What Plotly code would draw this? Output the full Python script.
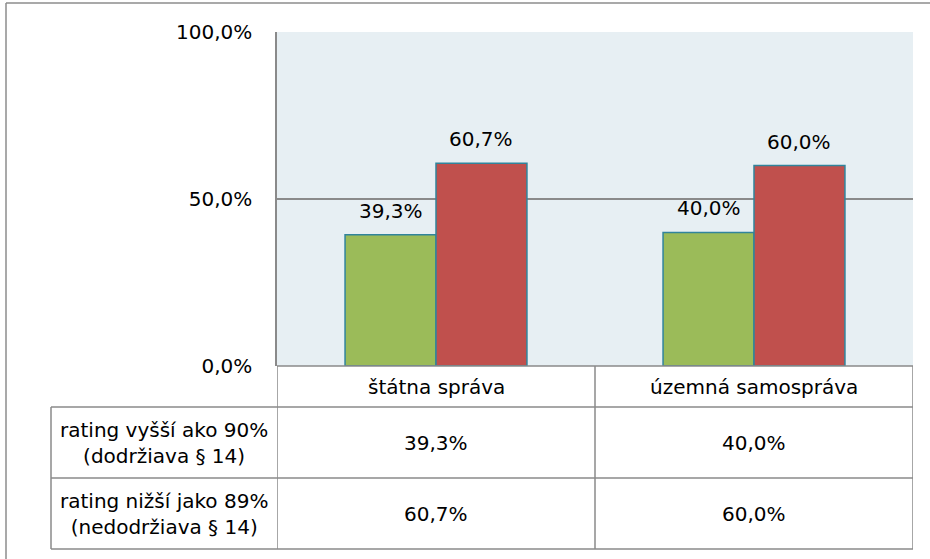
import plotly.graph_objects as go

# ---- data ----
categories = ["štátna správa", "územná samospráva"]
series_names = ["rating vyšší ako 90%<br>(dodržiava § 14)",
                "rating nižší jako 89%<br>(nedodržiava § 14)"]
vals_high = [0.393, 0.400]
vals_low = [0.607, 0.600]
y_ticks = [0.0, 0.5, 1.0]

colors = ["#9BBB59", "#C0504D"]
outline = "#31849B"
grid = "#8A8A8A"
FONT = "DejaVu Sans"
FS = 20

W, H = 930, 559
L, R, T, B = 277, 17, 32, 193
pw, ph = W - L - R, H - T - B


def px_x(x):  # pixel -> paper x
    return (x - L) / pw


def px_y(y):  # pixel -> y domain
    return (H - B - y) / ph


def fmt(v):
    return f"{v*100:.1f}".replace(".", ",") + "%"


BAR_OFF = 0.143  # half bar width in category units
fig = go.Figure()
ann = []
tf = dict(family=FONT, size=FS, color="#000000")
for k, (name, vals, col) in enumerate(zip(series_names, [vals_high, vals_low], colors)):
    fig.add_trace(go.Bar(
        x=list(range(len(categories))), y=vals, name=name,
        marker=dict(color=col, line=dict(color=outline, width=1.5)),
        hoverinfo="skip",
    ))
    off = -BAR_OFF if k == 0 else BAR_OFF
    for i, v in enumerate(vals):
        ann.append(dict(x=i + off, y=v, xref="x", yref="y", text=fmt(v),
                        showarrow=False, font=tf, xanchor="center",
                        yanchor="bottom", yshift=10))

shapes = []
line = dict(color=grid, width=1.5)
frame = dict(color="#8C8C8C", width=1.5)
# outer frame (top and left edges visible)
shapes.append(dict(type="line", xref="paper", yref="y domain",
                   x0=px_x(6), x1=px_x(W + 10), y0=px_y(3), y1=px_y(3), line=frame))
shapes.append(dict(type="line", xref="paper", yref="y domain",
                   x0=px_x(6), x1=px_x(6), y0=px_y(3), y1=px_y(H + 10), line=frame))
y_hdr_top = 0.0
y_hdr_bot = px_y(407)
y_row1_bot = px_y(478)
y_row2_bot = px_y(549)
x_left = px_x(51)
shapes.append(dict(type="line", xref="paper", yref="y domain",
                   x0=0, x1=1, y0=y_hdr_top, y1=y_hdr_top, line=line))
for yy in [y_hdr_bot, y_row1_bot, y_row2_bot]:
    shapes.append(dict(type="line", xref="paper", yref="y domain",
                       x0=x_left, x1=1, y0=yy, y1=yy, line=line))
shapes.append(dict(type="line", xref="paper", yref="y domain",
                   x0=x_left, x1=x_left, y0=y_hdr_bot, y1=y_row2_bot, line=line))
for xx in [-0.5, 0.5, 1.5]:
    shapes.append(dict(type="line", xref="x", yref="y domain",
                       x0=xx, x1=xx, y0=y_hdr_top, y1=y_row2_bot, line=line))

hdr_c = (y_hdr_top + y_hdr_bot) / 2
r1_c = (y_hdr_bot + y_row1_bot) / 2
r2_c = (y_row1_bot + y_row2_bot) / 2
for i, c in enumerate(categories):
    for txt, yc in [(c, hdr_c), (fmt(vals_high[i]), r1_c), (fmt(vals_low[i]), r2_c)]:
        ann.append(dict(x=i, y=yc, xref="x", yref="y domain", text=txt,
                        showarrow=False, font=tf, xanchor="center", yanchor="middle"))
lc = (x_left + 0) / 2
for name, yc in zip(series_names, [r1_c, r2_c]):
    ann.append(dict(x=lc, y=yc, xref="paper", yref="y domain", text=name,
                    showarrow=False, font=tf, xanchor="center", yanchor="middle",
                    align="center"))

fig.update_layout(
    width=W, height=H,
    margin=dict(l=L, r=R, t=T, b=B, pad=0),
    paper_bgcolor="#FFFFFF",
    plot_bgcolor="#E7EFF3",
    separators=",.",
    barmode="group", bargap=0.428, bargroupgap=0,
    showlegend=False,
    shapes=shapes, annotations=ann,
    font=dict(family=FONT, size=FS, color="#000000"),
)
fig.update_xaxes(showticklabels=False, showgrid=False, zeroline=False,
                 showline=False, ticks="", range=[-0.5, 1.5])
fig.update_yaxes(range=[0, 1], tickvals=y_ticks, tickformat=".1%",
                 showgrid=True, gridcolor=grid, gridwidth=2,
                 zeroline=False, showline=True, linecolor=grid, linewidth=1.5,
                 ticks="", ticklabelstandoff=19,
                 tickfont=dict(family=FONT, size=FS, color="#000000"))

fig.write_html("out.html", config={"displayModeBar": False},
               post_script="document.body.style.margin='0px';document.body.style.overflow='hidden';")
